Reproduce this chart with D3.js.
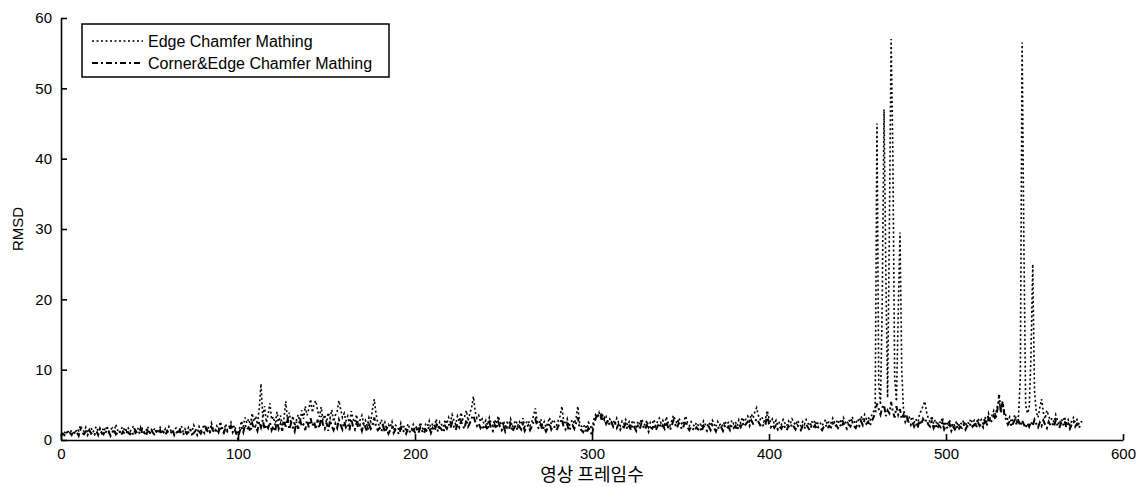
<!DOCTYPE html>
<html>
<head>
<meta charset="utf-8">
<script src="https://cdn.jsdelivr.net/npm/d3@7"></script>
<style>
  body { margin: 0; background: #fff; }
  .tick text { font-family: "Liberation Sans", Arial, sans-serif; font-size: 15px; fill: #000; }
  .axislabel { font-family: "Liberation Sans", Arial, sans-serif; fill: #000; }
  .legend_text { font-family: "Liberation Sans", Arial, sans-serif; font-size: 16px; fill: #000; }
</style>
</head>
<body>
<div id="plot1"></div>
<script>
// x ticks / y ticks
let xTicks = [0, 100, 200, 300, 400, 500, 600];
let yTicks = [0, 10, 20, 30, 40, 50, 60];
let seriesNames = ["Edge Chamfer Mathing", "Corner&Edge Chamfer Mathing"];

// RMSD per frame, Edge Chamfer Mathing (dotted)
let edgeRmsd = [
  1.0,0.8,1.1,0.9,1.2,1.0,1.4,1.1,0.9,1.6,1.3,2.1,1.5,1.2,1.8,1.0,1.4,1.7,1.1,1.5,
  1.9,1.2,1.6,1.0,1.8,1.3,2.0,1.1,1.5,1.7,1.2,2.2,1.4,1.0,1.6,1.9,1.3,1.1,1.7,1.2,
  1.5,2.0,1.0,1.4,1.8,1.2,1.6,1.0,1.3,1.9,1.1,1.5,1.2,1.7,1.0,1.4,1.8,1.3,1.1,1.6,
  1.2,1.9,1.4,1.0,1.5,1.7,1.1,1.3,2.0,1.2,1.6,1.0,1.8,1.4,1.2,2.1,1.5,1.1,1.9,1.3,
  1.7,2.2,1.4,1.9,1.2,2.4,1.6,1.3,2.0,1.5,2.6,1.8,1.2,2.3,1.4,1.9,2.5,1.6,2.1,1.3,
  0.8,1.8,2.7,1.9,3.2,2.4,3.0,2.1,3.8,2.6,3.4,2.2,4.5,8.0,3.1,4.8,2.5,3.6,5.2,2.9,
  3.3,2.1,4.0,2.6,3.5,2.0,3.1,5.5,2.7,3.9,2.3,3.4,2.0,2.8,3.6,2.4,4.2,3.0,4.8,3.5,
  4.4,5.8,3.9,5.2,5.6,4.1,3.3,4.7,2.8,3.6,2.5,3.9,3.1,4.3,2.6,3.5,4.0,5.6,4.4,3.2,
  3.8,2.7,3.4,2.2,4.1,3.0,2.5,3.6,2.1,2.9,3.5,2.3,2.8,2.0,3.2,2.6,4.4,5.8,3.7,2.4,
  2.0,2.9,1.7,2.5,1.5,2.2,1.8,2.6,1.4,2.1,1.9,1.3,2.4,1.6,2.0,1.2,2.3,1.7,1.5,2.2,
  1.4,2.0,1.6,2.5,1.8,1.3,2.2,1.9,2.7,1.5,2.4,2.0,3.0,1.7,2.6,2.2,1.8,2.9,2.3,3.2,
  2.5,3.6,2.8,2.2,3.4,2.6,3.9,2.9,3.3,4.2,2.7,3.8,4.6,6.2,4.0,3.1,3.5,2.6,3.0,2.3,
  2.8,2.1,3.2,2.4,2.0,2.9,2.3,3.4,2.6,2.1,2.7,1.9,2.5,2.2,3.0,1.8,2.4,2.8,2.0,2.6,
  2.2,3.1,1.9,2.5,2.8,2.0,2.6,3.5,4.5,2.7,2.3,3.0,2.1,2.6,1.8,2.4,3.2,2.2,2.9,2.5,
  2.1,2.8,3.4,4.8,2.6,2.2,3.0,1.9,2.5,2.9,2.3,3.2,4.8,2.4,2.0,1.7,2.2,1.6,2.5,2.1,
  1.5,2.9,3.6,3.2,3.9,3.1,3.5,2.8,3.3,2.6,3.0,2.4,2.8,2.2,3.1,2.5,2.0,2.7,2.3,2.9,
  2.1,2.6,2.0,2.8,2.4,1.9,2.7,2.2,3.0,2.5,2.1,2.8,1.8,2.5,2.3,2.9,2.0,2.6,3.1,2.4,
  2.8,2.2,3.3,2.5,2.0,2.7,3.5,2.9,2.3,3.1,2.6,2.1,2.8,3.4,2.4,2.0,2.6,2.2,1.9,2.5,
  2.1,2.4,1.8,2.7,2.2,1.9,2.5,2.0,2.8,2.3,1.8,2.6,2.1,2.4,1.9,2.7,2.2,2.5,2.0,2.8,
  2.3,2.6,2.0,2.9,2.4,3.2,2.6,3.0,3.4,2.7,3.7,3.1,4.0,4.6,3.5,2.9,3.3,2.6,3.0,4.2,
  3.1,2.5,3.0,2.3,2.8,2.1,2.6,2.2,2.9,2.4,2.0,2.7,2.3,3.0,2.5,2.1,2.8,2.4,2.0,2.6,
  2.2,2.9,2.4,2.0,2.7,2.3,2.8,2.1,2.6,2.4,2.0,2.5,2.9,2.2,2.7,2.4,3.1,2.5,2.8,2.3,
  2.9,2.4,3.2,2.6,2.2,2.9,2.5,3.3,2.7,2.3,3.0,2.6,3.4,2.8,3.6,3.0,3.3,2.7,3.5,4.0,
  4.5,45.0,8.0,5.0,20.0,47.0,24.0,6.0,30.0,57.0,40.0,9.0,5.5,18.0,29.5,10.0,4.2,3.6,2.9,3.4,
  2.8,3.3,2.5,3.0,2.2,3.6,4.2,4.8,5.5,4.0,3.1,2.6,3.4,2.3,2.9,2.1,2.7,2.4,3.2,2.0,
  2.6,2.1,2.9,1.8,2.4,2.0,2.7,1.9,2.5,2.2,2.8,2.0,2.6,2.3,3.0,2.4,2.8,2.2,3.1,2.6,
  2.9,2.3,3.3,2.6,3.8,3.0,3.5,4.2,3.6,4.8,5.5,4.4,5.2,4.0,3.4,2.8,3.3,2.5,3.0,3.6,
  2.7,3.5,9.0,56.5,28.0,5.0,3.8,4.5,12.0,25.0,7.0,4.0,3.2,4.6,5.8,3.9,3.0,4.2,3.4,2.8,
  3.1,2.5,3.6,2.8,2.2,3.0,2.6,3.3,2.4,2.9,2.1,2.7,3.2,2.5,2.9,2.3,2.7,2.5
];

// RMSD per frame, Corner&Edge Chamfer Mathing (dash-dot)
let cornerRmsd = [
  0.6,0.9,0.7,1.2,0.8,1.0,0.7,1.3,0.9,1.1,0.6,1.5,1.0,0.8,1.2,0.7,1.4,0.9,1.1,0.8,
  1.3,0.7,1.6,1.0,0.8,1.4,0.9,1.2,0.6,1.1,1.5,0.8,1.0,1.3,0.7,1.2,0.9,1.6,1.0,0.8,
  1.2,0.7,1.4,1.0,0.8,1.7,0.9,1.1,0.6,1.3,0.8,1.5,1.0,0.7,1.2,0.9,1.4,0.8,1.1,0.7,
  1.3,0.9,1.0,1.5,0.7,1.2,0.8,1.4,1.0,0.7,1.3,0.9,1.1,1.6,0.8,1.0,1.3,0.7,1.2,0.9,
  1.4,1.0,1.7,1.2,0.9,1.8,1.3,1.0,1.6,1.1,1.9,1.4,1.0,1.7,1.2,1.5,2.0,1.1,1.6,0.9,
  0.2,1.3,1.9,1.1,2.2,1.5,1.8,1.2,2.4,1.6,2.0,1.3,2.6,1.8,2.9,1.5,2.2,1.7,2.5,1.4,
  2.0,1.2,2.8,1.6,2.3,1.3,2.7,1.9,3.2,1.5,2.4,1.8,1.2,2.6,1.6,3.0,1.9,2.2,1.4,2.8,
  1.8,3.1,2.0,2.6,1.5,2.9,1.7,3.4,2.2,1.6,2.5,1.3,2.8,1.9,1.4,2.3,1.7,2.9,2.1,1.5,
  2.6,1.8,2.2,1.4,3.0,1.9,1.5,2.4,1.7,2.1,1.3,2.5,1.8,1.2,2.2,1.6,2.0,3.2,1.9,1.4,
  1.7,1.2,2.0,1.1,1.6,0.9,1.4,1.8,1.0,1.5,1.2,0.8,1.7,1.1,1.4,0.9,1.6,1.2,1.0,1.5,
  1.1,1.6,1.0,1.8,1.3,0.9,1.5,1.2,1.9,1.0,1.7,1.3,2.1,1.2,1.8,1.5,1.1,2.0,1.6,2.3,
  1.7,2.5,1.9,1.4,2.3,1.8,2.7,2.0,1.6,2.9,1.9,2.4,3.1,3.5,2.6,2.0,2.4,1.7,2.1,1.5,
  2.0,1.4,2.5,1.7,1.3,2.2,1.6,2.6,1.9,1.4,2.0,1.2,1.8,1.5,2.3,1.2,1.7,2.1,1.4,1.9,
  1.5,2.3,1.3,1.8,2.1,1.4,1.9,2.6,3.0,2.0,1.6,2.2,1.4,1.9,1.2,1.7,2.4,1.5,2.0,1.8,
  1.4,2.0,2.5,3.0,1.8,1.5,2.2,1.3,1.8,2.1,1.6,2.4,3.2,1.7,1.4,1.1,1.6,1.0,1.7,1.4,
  0.6,2.2,3.0,3.8,3.3,3.6,2.7,3.1,2.3,2.8,2.1,2.5,1.9,2.4,1.7,2.2,1.5,2.0,1.8,2.3,
  1.5,2.0,1.4,2.2,1.8,1.3,2.0,1.6,2.4,1.9,1.5,2.1,1.2,1.8,1.6,2.2,1.4,1.9,2.4,1.7,
  2.1,1.6,2.6,1.8,1.4,2.0,2.8,2.2,1.7,2.4,1.9,1.5,2.1,2.7,1.8,1.4,1.9,1.6,1.3,1.8,
  1.5,1.8,1.2,2.0,1.6,1.3,1.9,1.4,2.1,1.7,1.2,1.9,1.5,1.8,1.3,2.0,1.6,1.9,1.4,2.1,
  1.7,2.0,1.4,2.2,1.8,2.5,1.9,2.3,2.6,2.0,2.8,2.3,2.5,3.0,2.6,2.1,2.4,1.9,2.2,3.6,
  2.3,1.8,2.2,1.7,2.1,1.5,1.9,1.6,2.2,1.8,1.4,2.0,1.7,2.3,1.9,1.5,2.1,1.8,1.4,2.0,
  1.6,2.2,1.8,1.4,2.0,1.7,2.1,1.5,1.9,1.8,1.4,1.9,2.2,1.6,2.0,1.8,2.4,1.9,2.1,1.7,
  2.2,1.8,2.5,2.0,1.6,2.2,1.9,2.6,2.0,1.7,2.3,2.0,2.7,2.1,2.8,2.3,2.6,2.0,2.7,3.2,
  3.8,5.2,4.4,3.6,4.6,5.0,3.4,4.2,3.8,5.4,4.0,3.2,4.8,3.6,4.4,3.0,3.6,2.6,3.2,2.4,
  2.1,2.6,1.9,2.4,1.7,2.8,2.2,3.0,2.5,2.9,2.2,1.9,2.6,1.7,2.3,1.6,2.1,1.8,2.5,1.5,
  2.0,1.6,2.3,1.3,1.9,1.5,2.1,1.4,1.9,1.7,2.2,1.5,2.0,1.8,2.4,1.9,2.2,1.7,2.5,2.0,
  2.3,1.8,2.7,2.0,3.1,2.4,2.8,3.5,2.9,4.2,6.4,3.8,5.5,3.6,2.8,2.2,2.7,1.9,2.4,2.9,
  2.1,2.7,2.0,2.8,2.2,1.7,2.4,1.9,2.6,2.0,2.9,2.3,1.8,2.5,2.0,2.8,2.2,1.7,2.6,2.1,
  2.4,1.9,2.8,2.1,1.7,2.4,2.0,2.7,1.8,2.3,1.6,2.2,2.6,1.9,2.3,1.7,2.1,2.0
];

function project(){
    plt1();
}

let plt1=function(){
    const width = 1140;
    const height = 487;
    const margin = {top: 18, right: 17, bottom: 47, left: 61};

    var svg = d3.select("#plot1").append("svg").attr("width", width).attr("height", height)
                .style("background", "#fff");
    var xScale = d3.scaleLinear().domain([0, 600]).range([margin.left, width-margin.right]);
    var yScale = d3.scaleLinear().domain([0, 60]).range([height-margin.bottom, margin.top]);

    // ticks point inward like the original
    var xAxis = d3.axisBottom().scale(xScale).tickValues(xTicks).tickSizeInner(-6).tickSizeOuter(0).tickPadding(8);
    var yAxis = d3.axisLeft().scale(yScale).tickValues(yTicks).tickSizeInner(-6).tickSizeOuter(0).tickPadding(9);

    var line = d3.line().x((d,i)=>xScale(i)).y(d=>yScale(d));

    svg.append("path").datum(edgeRmsd)
        .attr("d", line)
        .attr("fill", "none")
        .attr("stroke", "#000")
        .attr("stroke-width", 1.6)
        .attr("stroke-dasharray", "2,2.5");

    svg.append("path").datum(cornerRmsd)
        .attr("d", line)
        .attr("fill", "none")
        .attr("stroke", "#000")
        .attr("stroke-width", 2)
        .attr("stroke-dasharray", "6,3,2,3");

    var gx = svg.append("g").attr("id", "xaxis").attr("transform","translate(0,"+(height-margin.bottom)+")").call(xAxis);
    var gy = svg.append("g").attr("id", "yaxis").attr("transform","translate("+margin.left+",0)").call(yAxis);
    svg.selectAll(".domain, .tick line").attr("stroke", "#000").attr("stroke-width", 1.6);

    //legend
    var lg = svg.append("g");
    lg.append("rect").attr("x", 82).attr("y", 24).attr("width", 307).attr("height", 53)
        .attr("fill", "#fff").attr("stroke", "#000").attr("stroke-width", 1.5);
    var dashes = ["2,2.5", "6,3,2,3"];
    seriesNames.forEach(function(name, i){
        var cy = 41 + i*22;
        lg.append("line").attr("x1", 92).attr("x2", 143).attr("y1", cy).attr("y2", cy)
            .attr("stroke", "#000").attr("stroke-width", i==0 ? 1.4 : 1.8)
            .attr("stroke-dasharray", dashes[i]);
        lg.append("text").attr("class","legend_text").attr("x", 148).attr("y", cy+6).text(name);
    });

    svg.append("text").attr("class", "axislabel").attr("x", (margin.left+width-margin.right)/2).attr("y", 481)
        .attr("text-anchor", "middle").style("font-size", "18px")
        .style("font-family", "'Noto Sans CJK KR', sans-serif")
        .text("영상 프레임수");
    svg.append("text").attr("class", "axislabel").attr("x", -229).attr("y", 23)
        .attr("transform", "rotate(-90)").attr("text-anchor", "middle").style("font-size", "15px")
        .text("RMSD");
}

project();
</script>
</body>
</html>
